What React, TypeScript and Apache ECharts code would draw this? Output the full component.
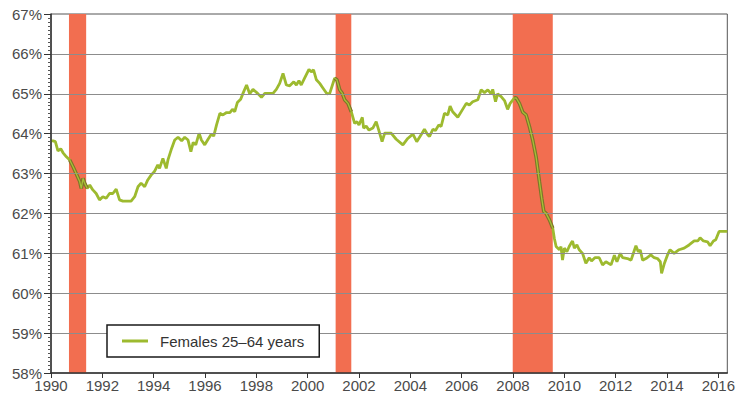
import { useEffect, useRef } from 'react';
import * as echarts from 'echarts';

const years = [
  1990.0, 1990.08, 1990.17, 1990.27, 1990.38, 1990.47, 1990.6, 1990.73, 1990.86, 1990.98,
  1991.12, 1991.18, 1991.25, 1991.31, 1991.41, 1991.51, 1991.63, 1991.76, 1991.89,
  1992.02, 1992.15, 1992.28, 1992.41, 1992.54, 1992.67, 1992.8,
  1993.12, 1993.26, 1993.39, 1993.51, 1993.65, 1993.77, 1993.9,
  1994.03, 1994.16, 1994.23, 1994.36, 1994.49, 1994.56, 1994.7, 1994.82, 1994.95,
  1995.09, 1995.21, 1995.34, 1995.45, 1995.54, 1995.64, 1995.77, 1995.86, 1995.99,
  1996.12, 1996.25, 1996.34, 1996.45, 1996.58, 1996.7, 1996.84, 1996.97,
  1997.07, 1997.16, 1997.26, 1997.39, 1997.48, 1997.62, 1997.74, 1997.87,
  1998.05, 1998.2, 1998.33, 1998.65, 1998.78, 1998.91,
  1999.04, 1999.17, 1999.3, 1999.46, 1999.56, 1999.66, 1999.75, 1999.88,
  2000.05, 2000.14, 2000.23, 2000.34, 2000.47, 2000.6, 2000.75, 2000.86,
  2001.05, 2001.14, 2001.25, 2001.35, 2001.44, 2001.57, 2001.7, 2001.83, 2001.92,
  2002.0, 2002.13, 2002.18, 2002.28, 2002.39, 2002.54, 2002.67, 2002.77, 2002.9,
  2003.0, 2003.26, 2003.45, 2003.71, 2003.9,
  2004.1, 2004.25, 2004.42, 2004.55, 2004.68, 2004.75, 2004.88, 2004.98,
  2005.11, 2005.2, 2005.33, 2005.46, 2005.55, 2005.65, 2005.85,
  2006.02, 2006.18, 2006.3, 2006.43, 2006.63, 2006.76, 2006.89,
  2007.02, 2007.15, 2007.21, 2007.32, 2007.4, 2007.54, 2007.67, 2007.79, 2007.89,
  2008.05, 2008.12, 2008.25, 2008.38, 2008.51, 2008.64, 2008.77, 2008.9,
  2009.03, 2009.12, 2009.2, 2009.29, 2009.42, 2009.55, 2009.61, 2009.68, 2009.81, 2009.87, 2009.93,
  2010.0, 2010.1, 2010.19, 2010.26, 2010.32, 2010.39, 2010.49, 2010.58, 2010.71, 2010.84, 2010.97,
  2011.06, 2011.19, 2011.36, 2011.49, 2011.62, 2011.82, 2011.95,
  2012.05, 2012.18, 2012.27, 2012.46, 2012.6, 2012.79, 2012.88, 2012.96,
  2013.05, 2013.18, 2013.37, 2013.5, 2013.63, 2013.74, 2013.79, 2013.89,
  2014.02, 2014.12, 2014.28, 2014.47, 2014.67, 2014.86,
  2015.06, 2015.2, 2015.29, 2015.42, 2015.58, 2015.68, 2015.81, 2015.9,
  2016.03, 2016.35,
];

const participation = [
  63.82, 63.82, 63.8, 63.57, 63.62, 63.52, 63.42, 63.34, 63.17, 63.0,
  62.8, 62.63, 62.88, 62.76, 62.63, 62.71, 62.59, 62.5, 62.34,
  62.42, 62.38, 62.5, 62.5, 62.61, 62.34, 62.31,
  62.31, 62.42, 62.67, 62.76, 62.67, 62.84, 62.96,
  63.05, 63.22, 63.13, 63.38, 63.13, 63.35, 63.63, 63.84, 63.91,
  63.82, 63.91, 63.84, 63.55, 63.78, 63.72, 64.01, 63.84, 63.72,
  63.86, 63.99, 63.94, 64.22, 64.51, 64.47, 64.53, 64.53,
  64.61, 64.55, 64.78, 64.86, 65.01, 65.22, 65.0, 65.11,
  65.01, 64.91, 65.01, 65.01, 65.11, 65.26,
  65.51, 65.22, 65.2, 65.3, 65.22, 65.33, 65.22, 65.39,
  65.61, 65.55, 65.6, 65.35, 65.26, 65.14, 65.0, 65.01,
  65.39, 65.35, 65.1, 65.01, 64.85, 64.76, 64.55, 64.26, 64.3,
  64.22, 64.41, 64.14, 64.19, 64.09, 64.14, 64.3, 64.09, 63.8,
  64.01, 64.01, 63.86, 63.72, 63.88,
  63.99, 63.8, 63.97, 64.11, 63.97, 63.93, 64.11, 64.08,
  64.22, 64.18, 64.51, 64.47, 64.69, 64.55, 64.41,
  64.59, 64.76, 64.72, 64.8, 64.85, 65.1, 65.03,
  65.1, 65.0, 65.11, 64.8, 65.0, 64.93, 64.83, 64.61, 64.76,
  64.89, 64.9, 64.76, 64.54, 64.47, 64.18, 63.84, 63.42,
  62.8, 62.38, 62.05, 62.0, 61.84, 61.63, 61.38, 61.17, 61.09, 61.17, 60.83,
  61.13, 61.04, 61.17, 61.25, 61.31, 61.13, 61.21, 61.09, 61.0, 60.75, 60.89,
  60.81, 60.89, 60.89, 60.71, 60.79, 60.71, 60.95,
  60.79, 61.0, 60.89, 60.87, 60.83, 61.19, 61.04, 61.08,
  60.83, 60.87, 60.96, 60.89, 60.87, 60.79, 60.5, 60.73,
  60.96, 61.09, 61.0, 61.09, 61.13, 61.21,
  61.31, 61.31, 61.39, 61.31, 61.29, 61.19, 61.31, 61.34,
  61.55, 61.55,
];

const recessionStart = [1990.7, 2001.09, 2007.99];
const recessionEnd = [1991.37, 2001.7, 2009.55];

const seriesName = 'Females 25–64 years';
const yTicks = { min: 58, max: 67, step: 1 };
const xTicks = { min: 1990, max: 2016.35, step: 2 };

const FONT = '"Liberation Sans", Arial, Helvetica, sans-serif';
const GREEN = '#9DBA2F';

export default function App() {
  const ref = useRef<HTMLDivElement>(null);

  useEffect(() => {
    const chart = echarts.init(ref.current!, null, { renderer: 'svg' });
    const points = years.map((y, i) => [y, participation[i]]);

    const gridValues: number[] = [];
    for (let v = yTicks.min + yTicks.step; v < yTicks.max; v += yTicks.step) gridValues.push(v);

    const overlays: any[] = [];
    recessionStart.forEach((s, k) => {
      const e = recessionEnd[k];
      const seg = points.filter(([y]) => y >= s - 0.045 && y <= e + 0.045);
      overlays.push({
        type: 'line',
        name: 'rec-outline-' + k,
        data: seg,
        showSymbol: false,
        silent: true,
        z: 4,
        lineStyle: { color: '#7f742a', width: 3.6 },
      });
      overlays.push({
        type: 'line',
        name: 'rec-core-' + k,
        data: seg,
        showSymbol: false,
        silent: true,
        z: 5,
        lineStyle: { color: '#a6c136', width: 1.3 },
      });
    });

    chart.setOption({
      animation: false,
      backgroundColor: '#ffffff',
      grid: {
        left: 51,
        right: 10,
        top: 14,
        bottom: 27,
        show: true,
        borderColor: '#555',
        borderWidth: 1,
        backgroundColor: 'transparent',
      },
      legend: {
        data: [{ name: seriesName, icon: 'rect' }],
        left: 107,
        top: 325,
        padding: [8, 15, 8, 15],
        borderColor: '#1a1a1a',
        borderWidth: 1.5,
        backgroundColor: '#fff',
        itemWidth: 26,
        itemHeight: 3,
        selectedMode: false,
        z: 10,
        textStyle: {
          fontSize: 15,
          color: '#333',
          fontFamily: FONT,
          lineHeight: 16,
          padding: [0, 0, 0, 7],
        },
      },
      xAxis: {
        type: 'value',
        min: xTicks.min,
        max: xTicks.max,
        interval: xTicks.step,
        z: 6,
        axisLine: { show: true, lineStyle: { color: '#333', width: 1.5 } },
        axisTick: { show: true, length: 5, lineStyle: { color: '#333' } },
        splitLine: { show: false },
        axisLabel: {
          fontSize: 15,
          color: '#4a4a4a',
          fontFamily: FONT,
          margin: 5,
          showMaxLabel: false,
          formatter: (v: number) => (Number.isInteger(v) ? String(v) : ''),
        },
      },
      yAxis: {
        type: 'value',
        min: yTicks.min,
        max: yTicks.max,
        interval: yTicks.step,
        z: 6,
        axisLine: { show: true, lineStyle: { color: '#333', width: 1.5 } },
        axisTick: { show: true, length: 7, lineStyle: { color: '#333' } },
        minorTick: { show: true, splitNumber: 10, length: 3, lineStyle: { color: '#555' } },
        splitLine: { show: false },
        axisLabel: {
          formatter: '{value}%',
          fontSize: 15,
          color: '#4a4a4a',
          fontFamily: FONT,
          margin: 9,
        },
      },
      series: [
        {
          type: 'line',
          name: 'recessions',
          data: [],
          z: 1,
          silent: true,
          markArea: {
            silent: true,
            itemStyle: { color: '#F26E50', opacity: 1 },
            data: recessionStart.map((s, k) => [{ xAxis: s }, { xAxis: recessionEnd[k] }]),
          },
        },
        {
          type: 'line',
          name: 'gridlines',
          data: [],
          z: 2,
          silent: true,
          markLine: {
            silent: true,
            symbol: ['none', 'none'],
            label: { show: false },
            lineStyle: { color: '#8c8c8c', width: 1, type: 'solid' },
            data: gridValues.map((v) => ({ yAxis: v })),
          },
        },
        {
          type: 'line',
          name: seriesName,
          data: points,
          showSymbol: false,
          z: 3,
          color: GREEN,
          lineStyle: { color: GREEN, width: 2.8 },
        },
        ...overlays,
      ],
    });

    return () => chart.dispose();
  }, []);

  return (
    <div
      ref={ref}
      style={{ position: 'fixed', left: 0, top: 0, width: 738, height: 400, background: '#fff' }}
    />
  );
}
